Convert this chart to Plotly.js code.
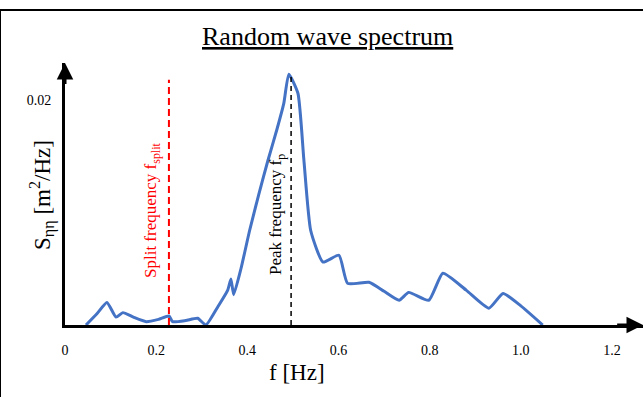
<!DOCTYPE html>
<html>
<head>
<meta charset="utf-8">
<script src="https://cdn.plot.ly/plotly-3.0.1.min.js"></script>
<style>html,body{margin:0;padding:0;background:#fff;}#chart{width:643px;height:397px;}</style>
</head>
<body>
<div id="chart"></div>
<script>
// Spectrum data
var freq = [0.046, 0.070, 0.092, 0.112, 0.127, 0.150, 0.178, 0.205, 0.228, 0.236, 0.265, 0.291, 0.309, 0.335, 0.357, 0.364, 0.370, 0.386, 0.405, 0.425, 0.445, 0.465, 0.480, 0.491, 0.511, 0.524, 0.539, 0.566, 0.601, 0.620, 0.667, 0.700, 0.733, 0.754, 0.798, 0.829, 0.880, 0.930, 0.961, 1.000, 1.048];
var spec = [0.0000, 0.0010, 0.0020, 0.0007, 0.0011, 0.0007, 0.0003, 0.0005, 0.0008, 0.0003, 0.0004, 0.0006, 0.0000, 0.0016, 0.0031, 0.0041, 0.0027, 0.0050, 0.0084, 0.0116, 0.0146, 0.0174, 0.0197, 0.0223, 0.0206, 0.0147, 0.0084, 0.0056, 0.0062, 0.0037, 0.0038, 0.0030, 0.0022, 0.0029, 0.0022, 0.0046, 0.0031, 0.0015, 0.0028, 0.0017, 0.0000];

var fSplit = 0.228;
var fPeak = 0.496;
var splitTop = 0.0218;
var peakTop = 0.0223;

var xTickVals = [0, 0.2, 0.4, 0.6, 0.8, 1.0, 1.2];
var xTickText = ['0', '0.2', '0.4', '0.6', '0.8', '1.0', '1.2'];
var yTickVals = [0.02];
var yTickText = ['0.02'];

var xMax = 1.268, yMax = 0.02329;
var serif = '"Liberation Serif", "Times New Roman", Times, serif';

var traces = [
  {x: freq, y: spec, type: 'scatter', mode: 'lines',
   line: {color: '#4472C4', width: 3, shape: 'spline', smoothing: 0.5},
   hoverinfo: 'skip', showlegend: false, cliponaxis: false},
  {x: [fSplit, fSplit], y: [0, splitTop], type: 'scatter', mode: 'lines',
   line: {color: '#FF0000', width: 2, dash: '7px,4px'}, showlegend: false, hoverinfo: 'skip'},
  {x: [fPeak, fPeak], y: [0, peakTop], type: 'scatter', mode: 'lines',
   line: {color: '#000000', width: 1.5, dash: '5px,4px'}, showlegend: false, hoverinfo: 'skip'}
];

var layout = {
  width: 643, height: 397,
  margin: {l: 65, r: 0, t: 63, b: 72},
  paper_bgcolor: '#fff', plot_bgcolor: '#fff',
  font: {family: serif, color: '#000'},
  showlegend: false,
  xaxis: {range: [0, xMax], showgrid: false, zeroline: false, showline: true,
          linecolor: '#000', linewidth: 3, ticks: '', tickvals: xTickVals, ticktext: xTickText,
          tickfont: {family: serif, size: 14, color: '#000'}, ticklabelstandoff: 10, fixedrange: true},
  yaxis: {range: [0, yMax], showgrid: false, zeroline: false, showline: true,
          linecolor: '#000', linewidth: 3, ticks: '', tickvals: yTickVals, ticktext: yTickText,
          tickfont: {family: serif, size: 14, color: '#000'}, ticklabelstandoff: 8, fixedrange: true},
  shapes: [
    {type: 'line', xref: 'paper', yref: 'paper', x0: -65/578, x1: -65/578, y0: -72/262, y1: 1 + 53/262,
     line: {color: '#000', width: 2}},
    {type: 'line', xref: 'paper', yref: 'paper', x0: -65/578, x1: 1, y0: 1 + 53/262, y1: 1 + 53/262,
     line: {color: '#000', width: 2}}
  ],
  annotations: [
    {x: xMax, y: 0, ax: xMax - 0.06, ay: 0, xref: 'x', yref: 'y', axref: 'x', ayref: 'y',
     showarrow: true, arrowhead: 2, arrowsize: 1.1, arrowwidth: 3, arrowcolor: '#000', text: '', standoff: 0},
    {x: 0, y: yMax, ax: 0, ay: yMax - 0.002, xref: 'x', yref: 'y', axref: 'x', ayref: 'y',
     showarrow: true, arrowhead: 2, arrowsize: 1.1, arrowwidth: 3, arrowcolor: '#000', text: '', standoff: 0},
    {text: '<u>Random wave spectrum</u>', xref: 'paper', yref: 'paper',
     x: (327 - 65) / 578, y: 1 + (63 - 37) / 262, showarrow: false,
     font: {family: serif, size: 26, color: '#000'}, xanchor: 'center', yanchor: 'middle'},
    {text: 'f [Hz]', xref: 'paper', yref: 'paper',
     x: (297 - 65) / 578, y: -(372 - 325) / 262, showarrow: false,
     font: {family: serif, size: 23, color: '#000'}, xanchor: 'center', yanchor: 'middle'},
    {text: 'S<sub>ηη</sub> [m<sup>2</sup>/Hz]', xref: 'paper', yref: 'paper',
     x: (42 - 65) / 578, y: (325 - 195) / 262, showarrow: false, textangle: -90,
     font: {family: serif, size: 23, color: '#000'}, xanchor: 'center', yanchor: 'middle'},
    {text: 'Split frequency f<sub>split</sub>', xref: 'paper', yref: 'paper',
     x: (152 - 65) / 578, y: (325 - 211) / 262, showarrow: false, textangle: -90,
     font: {family: serif, size: 17, color: '#FF0000'}, xanchor: 'center', yanchor: 'middle'},
    {text: 'Peak frequency f<sub>p</sub>', xref: 'paper', yref: 'paper',
     x: (277 - 65) / 578, y: (325 - 215) / 262, showarrow: false, textangle: -90,
     font: {family: serif, size: 17, color: '#000'}, xanchor: 'center', yanchor: 'middle'}
  ]
};

Plotly.newPlot('chart', traces, layout, {displayModeBar: false, staticPlot: true});
</script>
</body>
</html>
